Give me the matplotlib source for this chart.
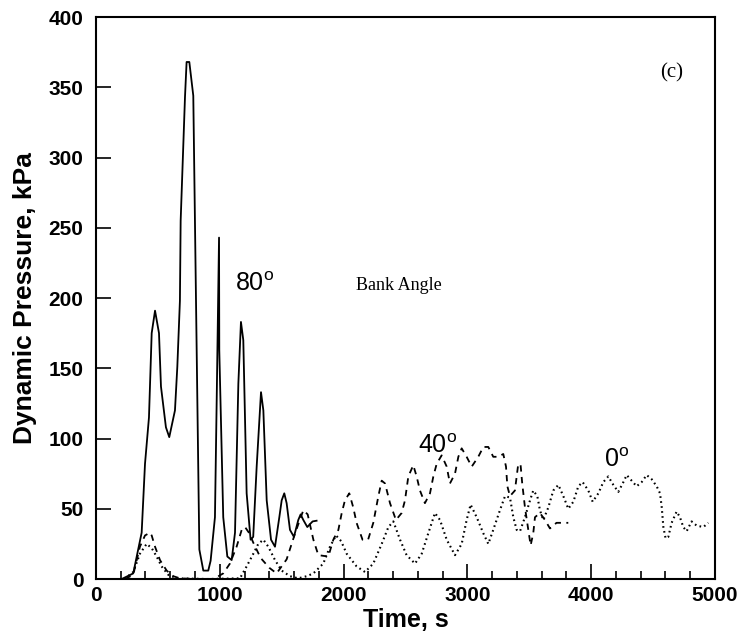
import numpy as np
import matplotlib.pyplot as plt
from matplotlib.ticker import MultipleLocator

# bank angle 80 deg (solid)
t80 = [208, 301, 369, 396, 428, 450, 477, 509, 525, 565, 592, 638, 657, 678, 684, 719, 732,
       754, 786, 808, 835, 867, 907, 926, 961, 975, 994, 996, 1028, 1061, 1096, 1123, 1150,
       1171, 1190, 1217, 1249, 1270, 1298, 1333, 1352, 1379, 1414, 1446, 1481, 1500, 1521,
       1540, 1567, 1599, 1634, 1653, 1675, 1707, 1728, 1750, 1782]
p80 = [0, 4, 33, 82, 115, 175, 191, 175, 137, 108, 101, 120, 151, 198, 255, 343, 368,
       368, 344, 198, 21, 6, 6, 13, 44, 127, 243, 163, 44, 16, 13.5, 33, 139,
       183, 170, 61, 28, 30, 80, 133, 120, 56, 28, 23, 44, 56, 61,
       54, 35, 30, 42, 46, 42, 37, 39, 41, 41.5]

# bank angle 40 deg (dashed)
t40 = [234, 301, 355, 396, 436, 450, 477, 517, 571, 625, 678, 800, 950, 1028, 1082, 1136,
       1177, 1204, 1239, 1270, 1330, 1400, 1459, 1540, 1610, 1675, 1710, 1756, 1796, 1877,
       1917, 1958, 1985, 2011, 2046, 2078, 2105, 2153, 2198, 2240, 2281, 2308, 2335, 2375,
       2423, 2469, 2496, 2523, 2563, 2590, 2617, 2657, 2698, 2725, 2752, 2792, 2833, 2859,
       2900, 2927, 2954, 2994, 3035, 3088, 3129, 3169, 3209, 3250, 3290, 3312, 3323, 3344,
       3384, 3411, 3430, 3443, 3465, 3492, 3511, 3532, 3546, 3586, 3627, 3667, 3720, 3770,
       3815]
p40 = [0, 3, 23, 31, 33, 31, 23, 13.5, 6, 2, 0.5, 0, 0, 4, 11, 23,
       35, 37, 32.5, 26, 15, 8, 4, 14, 33, 49, 46, 28, 17, 16,
       28, 35, 47, 56, 61, 51, 40, 28, 28, 40, 59, 70, 68, 54,
       42, 47, 56, 73, 81, 73, 63, 54, 61, 73, 82, 88, 80, 68,
       75, 87, 93, 87, 80, 87, 94, 94, 87, 87, 89, 80, 66, 59,
       63, 82, 81, 68, 51, 35, 24, 32.5, 44, 47, 42, 36, 40, 40,
       40]

# bank angle 0 deg (dotted)
t0 = [230, 301, 355, 409, 450, 490, 530, 584, 650, 900, 1163, 1217, 1271, 1311, 1352, 1392,
      1446, 1500, 1567, 1634, 1702, 1756, 1836, 1890, 1939, 1980, 2025, 2105, 2173, 2240,
      2308, 2362, 2402, 2456, 2509, 2577, 2631, 2684, 2738, 2779, 2833, 2900, 2954, 2994,
      3026, 3075, 3129, 3169, 3209, 3263, 3304, 3344, 3371, 3398, 3425, 3465, 3506, 3532,
      3565, 3586, 3613, 3654, 3694, 3735, 3775, 3815, 3856, 3896, 3931, 3977, 4012, 4058,
      4098, 4138, 4179, 4219, 4260, 4287, 4327, 4367, 4408, 4448, 4489, 4529, 4556, 4570,
      4583, 4601, 4623, 4650, 4690, 4717, 4744, 4771, 4811, 4852, 4906, 4946]
p0 = [0, 5, 18, 25, 22, 16, 9, 3, 0.5, 0, 0.5, 9, 18, 25, 28, 23,
      13.5, 6, 2, 0.5, 2, 4, 11, 23, 31, 27, 18, 9, 5, 11,
      25, 37, 41, 28, 17, 11, 18, 32.5, 47, 42, 28, 17, 25, 42,
      53, 44, 32.5, 25, 35, 49, 59, 58, 44, 35, 34, 44, 56, 63,
      59, 49, 42, 51, 63, 67, 59, 50, 55, 66, 69, 63, 55, 61,
      69, 73, 67, 62, 69, 74, 70, 66, 69, 74, 71, 66, 61, 51,
      37, 29, 30, 40, 48, 44, 37, 34, 41, 38, 37, 40]

plt.rcParams['font.family'] = ['Liberation Sans', 'DejaVu Sans']
plt.rcParams['mathtext.fontset'] = 'custom'
plt.rcParams['mathtext.rm'] = 'Liberation Sans'

fig = plt.figure(figsize=(7.44, 6.43), dpi=100)
ax = fig.add_axes([0.129, 0.0995, 0.832, 0.874])

ax.plot(t80, p80, '-', color='black', lw=1.3)
ax.plot(t40, p40, color='black', lw=1.3, dashes=(3.5, 3))
ax.plot(t0, p0, color='black', lw=1.5, dashes=(0.8, 1.6))

ax.set_xlim(0, 5000)
ax.set_ylim(0, 400)
ax.xaxis.set_major_locator(MultipleLocator(1000))
ax.xaxis.set_minor_locator(MultipleLocator(200))
ax.yaxis.set_major_locator(MultipleLocator(50))
ax.tick_params(which='major', direction='in', length=11, width=1.2, labelsize=15)
ax.tick_params(axis='y', pad=9)
ax.tick_params(axis='x', pad=5)
ax.tick_params(which='minor', direction='in', length=6, width=1.2)
for lab in ax.get_xticklabels() + ax.get_yticklabels():
    lab.set_fontweight('bold')
for s in ax.spines.values():
    s.set_linewidth(1.5)

ax.set_xlabel('Time, s', fontsize=18, fontweight='bold', labelpad=2)
ax.set_ylabel('Dynamic Pressure, kPa', fontsize=19, fontweight='bold', labelpad=8)

ax.text(1120, 205, '80$^{\\mathrm{o}}$', fontsize=18)
ax.text(2600, 90, '40$^{\\mathrm{o}}$', fontsize=18)
ax.text(4100, 80, '0$^{\\mathrm{o}}$', fontsize=18)
ax.text(2100, 209, 'Bank Angle', fontsize=13, family='Liberation Serif', va='center')
ax.text(4560, 360, '(c)', fontsize=15, family='Liberation Serif', va='center')

fig.savefig('out.png', dpi=100)
